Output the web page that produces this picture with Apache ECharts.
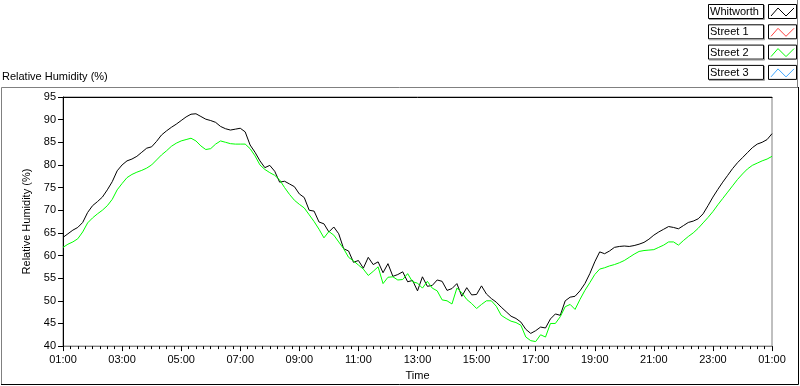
<!DOCTYPE html>
<html>
<head>
<meta charset="utf-8">
<script src="https://cdn.jsdelivr.net/npm/echarts@6/dist/echarts.min.js"></script>
<style>
  html, body { margin: 0; padding: 0; background: #fff; }
  #chart { width: 800px; height: 386px; }
</style>
</head>
<body>
<div id="chart"></div>
<script>
// time axis: samples every 10 minutes from 01:00 to 01:00 next day
const startHour = 1;
const stepMinutes = 10;
const hourTicks = [1, 3, 5, 7, 9, 11, 13, 15, 17, 19, 21, 23, 25];

const seriesNames = ["Whitworth", "Street 1", "Street 2", "Street 3"];
const seriesColors = ["#000000", "#ff4040", "#00ff00", "#40a8ff"];

const whitworth = [
  64.0, 64.8, 65.6, 66.2, 67.3, 69.5, 71.0, 71.9, 72.9, 74.5,
  76.3, 78.7, 80.0, 80.9, 81.3, 81.9, 82.8, 83.7, 84.0, 85.2,
  86.6, 87.5, 88.3, 89.0, 89.8, 90.6, 91.2, 91.3, 90.7, 90.1,
  89.8, 89.4, 88.5, 88.0, 87.7, 87.9, 88.1, 87.3, 84.4, 82.8,
  80.9, 79.4, 79.9, 78.6, 76.2, 76.4, 75.8, 75.2, 73.6, 72.8,
  70.0, 69.8, 67.4, 67.0, 65.2, 66.3, 64.8, 61.5, 61.0, 58.5,
  58.9, 57.2, 59.6, 58.0, 58.6, 56.2, 58.2, 55.4, 55.8, 56.4,
  54.2, 54.5, 52.2, 55.3, 53.2, 53.4, 54.6, 54.3, 52.3, 52.7,
  53.8, 51.0, 52.9, 51.3, 51.4, 53.3, 51.5, 50.5, 49.7, 48.6,
  47.6, 46.6, 46.1, 45.3, 43.7, 42.8, 43.4, 44.2, 44.0, 46.0,
  47.1, 46.8, 50.0, 50.8, 51.0, 52.2, 53.8, 56.0, 58.6, 60.8,
  60.4, 61.0, 61.8, 62.0, 62.1, 62.0, 62.2, 62.5, 62.9, 63.6,
  64.5, 65.2, 65.8, 66.4, 66.2, 65.9, 66.6, 67.3, 67.6, 68.1,
  69.2, 71.0, 72.9, 74.6, 76.2, 77.7, 79.2, 80.5, 81.6, 82.7,
  83.8, 84.6, 85.0, 85.6, 86.9
];

const street1 = [];

const street2 = [
  61.8, 62.5, 63.0, 63.7, 65.2, 67.2, 68.3, 69.2, 70.0, 71.0,
  72.4, 74.5, 75.9, 77.2, 77.9, 78.4, 78.8, 79.3, 80.0, 81.1,
  82.2, 83.1, 84.1, 84.8, 85.3, 85.6, 85.9, 85.3, 84.2, 83.4,
  83.6, 84.6, 85.3, 85.0, 84.7, 84.6, 84.6, 84.6, 83.6, 82.0,
  80.0, 79.0, 78.3, 77.7, 76.7, 75.0, 73.5, 72.2, 71.3, 70.5,
  69.0, 67.5, 65.8, 63.9, 65.3, 64.5, 63.0, 61.5, 59.6, 58.8,
  57.9, 57.0, 55.6, 56.5, 57.5, 53.8, 55.2, 55.3, 54.6, 54.7,
  56.0, 54.2, 53.9, 52.8, 54.3, 52.8, 52.2, 50.2, 50.0, 49.3,
  52.8, 51.8, 50.3, 49.4, 48.3, 49.2, 50.0, 50.0, 48.8, 46.8,
  46.1, 45.5, 45.2, 44.6, 42.0, 41.2, 41.0, 42.5, 42.0, 45.0,
  45.0, 46.5, 48.7, 49.2, 48.1, 50.3, 52.3, 54.0, 55.8, 57.0,
  57.3, 57.7, 58.0, 58.4, 58.9, 59.6, 60.3, 60.9, 61.1, 61.2,
  61.3, 61.8, 62.3, 63.0, 63.0, 62.3, 63.3, 64.2, 65.0, 66.0,
  67.2, 68.4, 69.7, 71.2, 72.6, 74.0, 75.4, 76.8, 78.0, 79.1,
  79.9, 80.4, 80.9, 81.3, 81.9
];

const street3 = [];

const FONT = "Liberation Sans";

// values -> [hour, value] pairs
const toPairs = arr => arr.map((v, i) => [startHour + i * stepMinutes / 60, v]);

const fmtHour = h => {
  const hh = h % 24;
  return (hh < 10 ? "0" : "") + hh + ":00";
};

// legend drawn as LabVIEW-style boxes
const legendGraphics = [];
seriesNames.forEach((name, k) => {
  const top = 4 + k * 20.3;
  legendGraphics.push(
    { type: "rect", shape: { x: 708.5, y: top + 0.5, width: 55, height: 14 },
      style: { fill: "#fff", stroke: "#000", lineWidth: 1 } },
    { type: "polyline", shape: { points: [[764.5, top + 1], [764.5, top + 15.5], [709, top + 15.5]] },
      style: { stroke: "#a0a0a0", lineWidth: 1, fill: null } },
    { type: "text", style: { x: 710, y: top + 8, text: name, font: "11px " + FONT,
      fill: "#000", textVerticalAlign: "middle" } },
    { type: "rect", shape: { x: 768.5, y: top + 0.5, width: 28, height: 14 },
      style: { fill: "#fff", stroke: "#000", lineWidth: 1 } },
    { type: "polyline", shape: { points: [[771, top + 12], [778, top + 4], [786, top + 12], [794, top + 4]] },
      style: { stroke: seriesColors[k], lineWidth: 1, fill: null } }
  );
});

const chart = echarts.init(document.getElementById("chart"), null, { renderer: "canvas" });

const option = {
  backgroundColor: "#fff",
  animation: false,
  textStyle: { fontFamily: FONT, fontSize: 11, color: "#000" },
  grid: {
    left: 63, top: 97, right: 28, bottom: 39,
    show: true, borderColor: "#808080", borderWidth: 1
  },
  legend: { show: false },
  xAxis: [
    {
      type: "value",
      min: hourTicks[0],
      max: hourTicks[hourTicks.length - 1],
      interval: 2,
      name: "Time",
      nameLocation: "middle",
      nameGap: 22,
      nameTextStyle: { fontFamily: FONT, fontSize: 11, color: "#000" },
      axisLine: { show: true, onZero: false, lineStyle: { color: "#808080", width: 1 } },
      axisTick: { show: true, length: 5, lineStyle: { color: "#000" } },
      minorTick: { show: true, splitNumber: 8, length: 3, lineStyle: { color: "#000" } },
      splitLine: { show: false },
      axisLabel: { margin: 8, color: "#000", fontFamily: FONT, fontSize: 11, formatter: fmtHour }
    },
    {
      type: "value", position: "top",
      min: hourTicks[0], max: hourTicks[hourTicks.length - 1],
      axisLine: { show: true, lineStyle: { color: "#000", width: 1 } },
      axisTick: { show: false }, axisLabel: { show: false }, splitLine: { show: false }
    }
  ],
  yAxis: {
    type: "value",
    min: 40, max: 95, interval: 5,
    name: "Relative Humidity (%)",
    nameLocation: "middle",
    nameGap: 24,
    nameTextStyle: { fontFamily: FONT, fontSize: 11, color: "#000" },
    axisLine: { show: true, lineStyle: { color: "#000", width: 1 } },
    axisTick: { show: true, length: 5, lineStyle: { color: "#000" } },
    splitLine: { show: false },
    axisLabel: { margin: 7, color: "#000", fontFamily: FONT, fontSize: 11 }
  },
  series: [
    { name: seriesNames[0], type: "line", data: toPairs(whitworth), showSymbol: false,
      lineStyle: { color: seriesColors[0], width: 1 }, itemStyle: { color: seriesColors[0] } },
    { name: seriesNames[1], type: "line", data: toPairs(street1), showSymbol: false,
      lineStyle: { color: seriesColors[1], width: 1 } },
    { name: seriesNames[2], type: "line", data: toPairs(street2), showSymbol: false,
      lineStyle: { color: seriesColors[2], width: 1 }, itemStyle: { color: seriesColors[2] } },
    { name: seriesNames[3], type: "line", data: toPairs(street3), showSymbol: false,
      lineStyle: { color: seriesColors[3], width: 1 } }
  ],
  graphic: [
    // outer frame of the graph
    { type: "polyline", shape: { points: [[1.5, 384], [1.5, 87.5], [798, 87.5]] },
      style: { stroke: "#808080", lineWidth: 1, fill: null } },
    { type: "polyline", shape: { points: [[798.5, 87], [798.5, 384.5], [1, 384.5]] },
      style: { stroke: "#000", lineWidth: 1, fill: null } },
    { type: "line", shape: { x1: 797.5, y1: 0, x2: 797.5, y2: 87 },
      style: { stroke: "#808080", lineWidth: 1 } },
    { type: "text", style: { x: 2, y: 77, text: "Relative Humidity (%)", font: "11px " + FONT,
      fill: "#000", textVerticalAlign: "middle" } }
  ].concat(legendGraphics)
};

chart.setOption(option);
</script>
</body>
</html>
